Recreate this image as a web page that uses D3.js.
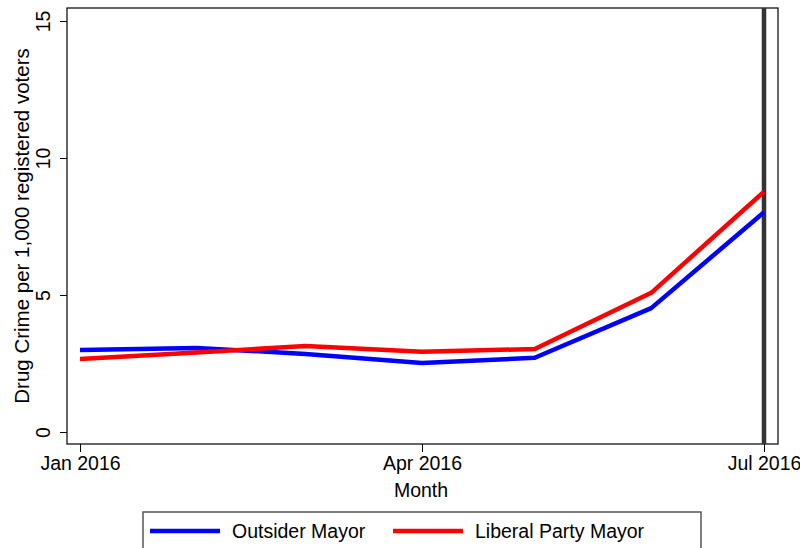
<!DOCTYPE html>
<html>
<head>
<meta charset="utf-8">
<script src="https://cdn.jsdelivr.net/npm/d3@7"></script>
<style>
  body { margin: 0; background: #fff; }
  svg { font-family: "Liberation Sans", Arial, Helvetica, sans-serif; }
</style>
</head>
<body>
<svg id="chart" width="800" height="548"></svg>
<script>
const months = ["2016-01", "2016-02", "2016-03", "2016-04", "2016-05", "2016-06", "2016-07"];
const outsider = [2.99, 3.07, 2.85, 2.52, 2.71, 4.52, 8.02];
const liberal = [2.66, 2.9, 3.14, 2.93, 3.03, 5.08, 8.77];
const yTicks = [0, 5, 10, 15];
const xTicks = ["2016-01", "2016-04", "2016-07"];
const seriesNames = ["Outsider Mayor", "Liberal Party Mayor"];
const seriesColors = ["#0000ff", "#ff0000"];
const markerMonth = "2016-07";

const box = { left: 67, right: 778, top: 8, bottom: 444 };
const parse = d3.timeParse("%Y-%m");

const svg = d3.select("#chart");

const x = d3.scaleTime()
  .domain([parse(months[0]), parse(months[months.length - 1])])
  .range([80, 764]);

const y = d3.scaleLinear()
  .domain([0, 15])
  .range([432, 21]);

// plot frame
svg.append("rect")
  .attr("x", box.left)
  .attr("y", box.top)
  .attr("width", box.right - box.left)
  .attr("height", box.bottom - box.top)
  .attr("fill", "#fff")
  .attr("stroke", "#000")
  .attr("stroke-width", 1.2);

// y axis, labels turned upright like the original
const yAxis = svg.append("g")
  .attr("transform", `translate(${box.left},0)`)
  .call(d3.axisLeft(y).tickValues(yTicks).tickSize(7));
yAxis.select(".domain").remove();
yAxis.selectAll("text")
  .attr("font-size", 19.5)
  .attr("fill", "#000")
  .attr("text-anchor", "middle")
  .attr("x", -17)
  .attr("y", 0)
  .attr("dy", 0)
  .attr("transform", "rotate(-90, -17, 0)");

// x axis
const xAxis = svg.append("g")
  .attr("transform", `translate(0,${box.bottom})`)
  .call(d3.axisBottom(x)
    .tickValues(xTicks.map(parse))
    .tickFormat(d3.timeFormat("%b %Y"))
    .tickSize(8)
    .tickPadding(4));
xAxis.select(".domain").remove();
xAxis.selectAll("text")
  .attr("font-size", 19.5)
  .attr("fill", "#000");

// axis titles
svg.append("text")
  .attr("transform", "rotate(-90)")
  .attr("x", -226)
  .attr("y", 29)
  .attr("text-anchor", "middle")
  .attr("font-size", 20.5)
  .text("Drug Crime per 1,000 registered voters");

svg.append("text")
  .attr("x", 421)
  .attr("y", 497)
  .attr("text-anchor", "middle")
  .attr("font-size", 19.5)
  .text("Month");

// vertical marker
svg.append("line")
  .attr("x1", x(parse(markerMonth)))
  .attr("x2", x(parse(markerMonth)))
  .attr("y1", box.top)
  .attr("y2", box.bottom)
  .attr("stroke", "#333")
  .attr("stroke-width", 4.5);

// series lines
const line = d3.line()
  .x((d, i) => x(parse(months[i])))
  .y(d => y(d));

[outsider, liberal].forEach((vals, i) => {
  svg.append("path")
    .datum(vals)
    .attr("d", line)
    .attr("fill", "none")
    .attr("stroke", seriesColors[i])
    .attr("stroke-width", 4.5)
    .attr("stroke-linejoin", "round");
});

// legend
const legend = svg.append("g");
legend.append("rect")
  .attr("x", 143)
  .attr("y", 512)
  .attr("width", 558)
  .attr("height", 50)
  .attr("fill", "#fff")
  .attr("stroke", "#555")
  .attr("stroke-width", 1.5);

const legendPos = [150, 393];
seriesNames.forEach((name, i) => {
  legend.append("line")
    .attr("x1", legendPos[i])
    .attr("x2", legendPos[i] + 70)
    .attr("y1", 531)
    .attr("y2", 531)
    .attr("stroke", seriesColors[i])
    .attr("stroke-width", 4.5);
  legend.append("text")
    .attr("x", legendPos[i] + 82)
    .attr("y", 538)
    .attr("font-size", 19.5)
    .text(name);
});
</script>
</body>
</html>
